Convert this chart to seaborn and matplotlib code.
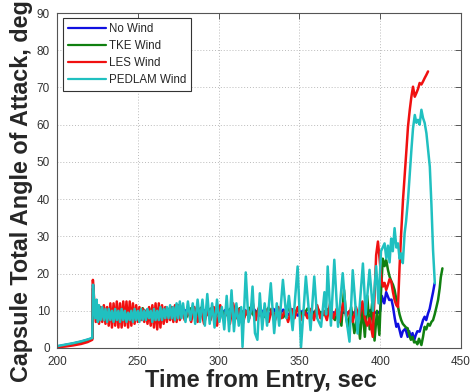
import numpy as np
import pandas as pd
import matplotlib
matplotlib.use("Agg")
import matplotlib.pyplot as plt
import seaborn as sns

series_names = ["No Wind", "TKE Wind", "LES Wind", "PEDLAM Wind"]
colors = ["#1010e0", "#108010", "#f01010", "#20c0c0"]

# ---------------- No Wind ----------------
nowind_t_a = [200, 205, 210, 215, 219, 221.8, 222.3, 223, 224, 225]
nowind_v_a = [0.4, 0.8, 1.2, 1.7, 2.2, 2.6, 17, 11, 8, 10.5]
nowind_t_b = list(np.arange(226, 398, 3))
nowind_v_b = [10.5, 8.5, 10.5, 8.8, 10.3, 8.5, 10.6, 8.7, 10.2, 8.6,
              10.4, 8.8, 10.5, 8.6, 10.3, 8.9, 10.4, 8.7, 10.2, 8.8,
              10.5, 8.6, 10.3, 8.9, 10.4, 8.7, 10.2, 8.8, 10.5, 8.6,
              10.3, 8.9, 10.4, 8.7, 10.2, 8.8, 10.5, 8.6, 10.3, 8.9,
              10.4, 8.7, 10.0, 9.2, 9.8, 9.3, 9.6, 9.4, 9.7, 9.3,
              9.6, 9.4, 9.8, 9.2, 10.0, 9.0, 10.2, 9.5]
nowind_t_c = [399, 400, 401, 402.5, 403.7, 405.6, 407, 407.9, 409, 410, 411, 412,
              413, 414, 415.6, 417, 418, 419, 420, 421, 422, 423, 424.4, 425.5,
              426.5, 427.5, 428.5, 429.6, 430.6, 431.7, 432.7, 433.7]
nowind_v_c = [9.5, 10, 14, 12, 15, 12.9, 13, 11.1, 8, 5.7, 6.5, 4.8,
              3.0, 4.5, 5.2, 3, 4.5, 2.5, 4, 2, 3.5, 4.5, 4.4, 6,
              7.5, 8.4, 7.5, 9.3, 10.5, 12.9, 15, 17.4]

# ---------------- TKE Wind ----------------
tke_t_a = [200, 205, 210, 215, 219, 221.8, 222.3, 223, 224, 225]
tke_v_a = [0.3, 0.7, 1.1, 1.6, 2.1, 2.5, 16, 11, 8.5, 11]
tke_t_b = list(np.arange(226, 368, 3))
tke_v_b = [8.2, 10.8, 8.5, 10.6, 8.3, 10.9, 8.6, 10.5, 8.2, 10.7,
           8.4, 10.8, 8.5, 10.6, 8.3, 10.9, 8.6, 10.5, 8.2, 10.7,
           8.4, 10.8, 8.5, 10.6, 8.3, 10.9, 8.6, 10.5, 8.2, 10.7,
           8.4, 10.8, 8.5, 10.6, 8.3, 10.9, 8.6, 10.5, 8.2, 10.7,
           8.4, 10.8, 8.5, 10.6, 8.3, 10.9, 8.6, 10.5]
tke_t_c = [370, 372, 374, 376, 377.6, 379, 380, 382, 384, 386, 387.5, 389, 390.5,
           392, 393.5, 395, 396.5, 398, 399.5, 400.5, 401.6, 402.7, 403.7, 404.8,
           405.8, 406.8, 407.9, 408.9, 410, 411, 412, 413, 414, 415, 416, 417, 418,
           419, 420, 421, 422, 423, 424, 425.5, 426.5, 427.5, 428.5, 429.6, 430.7,
           431.7, 432.7, 433.7, 434.8, 435.8, 436.8, 437.5, 438.5]
tke_v_c = [9, 7.5, 10, 6, 15.6, 8, 5.7, 11, 4, 9, 2.5, 11, 3,
           14, 5, 12, 2, 10, 3.5, 15, 24, 22, 23.7, 21,
           19.2, 18, 17, 15.6, 13, 11.1, 9, 7.5, 6.5, 6, 5.5, 5.3, 3.5,
           2.2, 3, 1.5, 1.7, 1, 2.5, 0.8, 3, 5.7, 5, 6.5, 6,
           7, 7.5, 9, 11, 12.9, 16, 19, 21.4]

# ---------------- LES Wind ----------------
les_t_a = [200, 205, 210, 215, 219, 221.8, 222.2, 223, 224]
les_v_a = [0.2, 0.4, 0.7, 1.1, 1.6, 2.2, 18.3, 13, 7]
les_t_b = list(np.arange(225, 278, 1))
les_v_b = [11.5, 6.5, 11, 7, 11.5, 6.5, 11, 6, 12, 5.5,
           12, 6, 12.5, 5.5, 12, 5.5, 12.5, 6, 12.5, 5.5,
           12.5, 6, 12, 6.5, 11.5, 7, 11, 7.5, 10.5, 7,
           10, 6.5, 11, 6, 11.5, 5.5, 12, 5, 12, 5.5,
           11.5, 6.5, 11, 7, 10.5, 7.5, 11, 7, 11.5, 7,
           11.5, 7.5, 11]
les_t_c = list(np.arange(279, 390, 2))
les_v_c = [7.5, 10.5, 7, 11, 7, 10.5, 6.5, 10, 7.5, 11,
           6, 11.5, 7.5, 10, 6.5, 12, 8, 10.5, 6.5, 10,
           8, 12.5, 7.5, 11, 8, 10.5, 7, 10.5, 7.5, 11,
           8, 10, 7, 10.5, 8, 11, 7.5, 10, 8, 10.5,
           7.5, 11.5, 8, 10, 7.5, 12, 8, 10.5, 7, 12,
           8.5, 10, 7, 11, 8, 12.5]
les_t_d = [390.5, 392, 393.5, 395.4, 396.5, 397.5, 398.6, 399.6, 400.6, 401.7,
           402.7, 403.7, 404.8, 405.8, 406.8, 407.9, 408.9, 410, 411, 412, 413,
           414.1, 415.1, 416.2, 417.2, 418.3, 419.3, 420.3, 421.4, 422.4, 423.4,
           424.4, 425.5, 426.5, 427.5, 428.6, 429.6]
les_v_d = [8, 6, 8, 3, 14, 25, 28.6, 24, 19, 16.5,
           17.5, 15.6, 17, 18.5, 17.9, 15, 12.9, 11.5, 11, 22, 31,
           39.8, 46, 53, 59.5, 64, 67.5, 70.2, 67.5, 68.5, 69.6,
           71.2, 70.8, 71.6, 72.5, 73.4, 74.3]

# ---------------- PEDLAM Wind ----------------
ped_t_a = [200, 205, 210, 215, 219, 221.8, 222.3, 223, 223.7, 224.5, 225.3]
ped_v_a = [0.5, 0.9, 1.3, 1.8, 2.3, 2.7, 17, 12, 8, 13, 7]
ped_t_b = list(np.arange(226, 278, 1))
ped_v_b = [11.5, 7.5, 11, 7.5, 10.5, 7, 10.5, 7.5, 10, 7,
           10.5, 7.5, 10, 7, 10.5, 7.5, 10, 7, 9.5, 7.5,
           10, 7, 10.5, 7.5, 10, 7, 10.5, 7.5, 10, 7.5,
           10.5, 8, 10, 7, 10.5, 7.5, 10, 7.5, 11, 7.5,
           10.5, 8, 11, 8, 11.5, 8, 11, 7.5, 12, 8,
           12.5, 8]
ped_t_c = [278, 279.5, 281, 282.5, 284, 285.5, 287, 288.5, 290, 291.5, 293, 294.5,
           296, 297.5, 299, 300.5, 302, 303.5, 305, 306.5, 308, 309.5, 311, 312.5,
           314, 314.8, 316.8, 318.5, 320, 321, 322.5, 324, 325.5, 327, 328.5, 330,
           332.3, 334.4, 336, 337.5, 339.8, 342, 343.5, 345.8, 348.9, 351, 354,
           356.9, 359.2, 361, 363.4, 365.5, 366.5, 367.5, 369.5, 371.6, 373.9,
           376.8, 379, 381, 383, 386, 389.3, 391, 393.4, 395.5, 397.5, 399, 400.5]
ped_v_c = [12, 7, 12.5, 7.5, 12, 6.5, 13, 7, 13, 6, 14.5, 6.5,
           12, 5.5, 13, 7, 11, 5, 14, 4.5, 15.5, 4.5, 12, 6,
           11, 0.3, 20.3, 7, 10, 16.5, 4, 2.2, 14.7, 5, 12, 6,
           17.4, 4, 12, 6, 18.3, 8, 14, 4.8, 21.9, 0.2, 19.2,
           4.8, 19.2, 8, 5.7, 15, 9, 21.9, 6, 23.7, 5.7,
           20.1, 8, 1.7, 20.9, 3.9, 22.7, 9, 21, 10, 22, 12, 26]
ped_t_d = [402.7, 403.8, 404.8, 405.8, 406.8, 407.8, 408.9, 410, 411, 412, 413,
           414, 415.1, 416, 417.2, 418.3, 419.3, 420.3, 421.4, 422.4, 423.4,
           424.4, 425.5, 426.5, 427.5, 428.6, 429.6, 430.7, 431.7, 432.7, 433.8]
ped_v_d = [28.1, 24, 27.5, 23, 29.4, 26, 32.2, 27, 28.1, 24, 25.4,
           22.8, 30.8, 34, 39.8, 47, 53.2, 59, 62.6, 60.5, 61.3,
           60, 64, 61.8, 60.5, 57.7, 53.5, 48.7, 38.5, 26.3, 17.4]

x_ticks = [200, 250, 300, 350, 400, 450]
y_ticks = [0, 10, 20, 30, 40, 50, 60, 70, 80, 90]
x_label = "Time from Entry, sec"
y_label = "Capsule Total Angle of Attack, deg"

series_t = {
    "No Wind": nowind_t_a + nowind_t_b + nowind_t_c,
    "TKE Wind": tke_t_a + tke_t_b + tke_t_c,
    "LES Wind": les_t_a + les_t_b + les_t_c + les_t_d,
    "PEDLAM Wind": ped_t_a + ped_t_b + ped_t_c + ped_t_d,
}
series_v = {
    "No Wind": nowind_v_a + nowind_v_b + nowind_v_c,
    "TKE Wind": tke_v_a + tke_v_b + tke_v_c,
    "LES Wind": les_v_a + les_v_b + les_v_c + les_v_d,
    "PEDLAM Wind": ped_v_a + ped_v_b + ped_v_c + ped_v_d,
}

frames = []
for name in series_names:
    t = [float(x) for x in series_t[name]]
    v = series_v[name]
    n = min(len(t), len(v))
    if len(t) != len(v):
        print("length mismatch", name, len(t), len(v))
    frames.append(pd.DataFrame({"t": t[:n], "v": v[:n], "series": name}))
df = pd.concat(frames, ignore_index=True)

sns.set_style("white")
plt.rcParams["font.family"] = ["Liberation Sans", "DejaVu Sans"]

fig = plt.figure(figsize=(4.70, 3.92), dpi=100)
ax = fig.add_axes([57 / 470, 44 / 392, 404 / 470, 335 / 392])

sns.lineplot(data=df, x="t", y="v", hue="series", hue_order=series_names,
             palette=dict(zip(series_names, colors)), estimator=None,
             sort=False, linewidth=1.8, ax=ax)

ax.set_xlim(200, 450)
ax.set_ylim(0, 90)
ax.set_xticks(x_ticks)
ax.set_yticks(y_ticks)
ax.tick_params(axis="both", which="both", direction="in", length=4,
               top=True, right=True, labelsize=8.5, labelcolor="#333333",
               color="#555555", width=0.7)
ax.tick_params(axis="x", pad=6)
ax.tick_params(axis="y", pad=5)
ax.grid(True, linestyle=(0, (1, 2)), color="#bbbbbb", linewidth=0.7)
for sp in ax.spines.values():
    sp.set_color("#555555")
    sp.set_linewidth(0.8)
    sp.set_visible(True)

ax.set_xlabel(x_label, fontsize=17, fontweight="bold")
ax.set_ylabel(y_label, fontsize=16.8, fontweight="bold")
ax.xaxis.set_label_coords(0.504, -0.064)
ax.yaxis.set_label_coords(-0.06, 0.469)

handles, labels = ax.get_legend_handles_labels()
leg = ax.legend(handles, labels, loc="upper left", bbox_to_anchor=(0.015, 0.985),
                borderaxespad=0, fancybox=False, framealpha=1, edgecolor="#333333",
                fontsize=8.3, handlelength=3.3, labelspacing=0.45, handletextpad=0.3,
                borderpad=0.4)
leg.get_frame().set_linewidth(0.8)
for line in leg.get_lines():
    line.set_linewidth(1.6)

fig.savefig("out.png", dpi=100, facecolor="white")
